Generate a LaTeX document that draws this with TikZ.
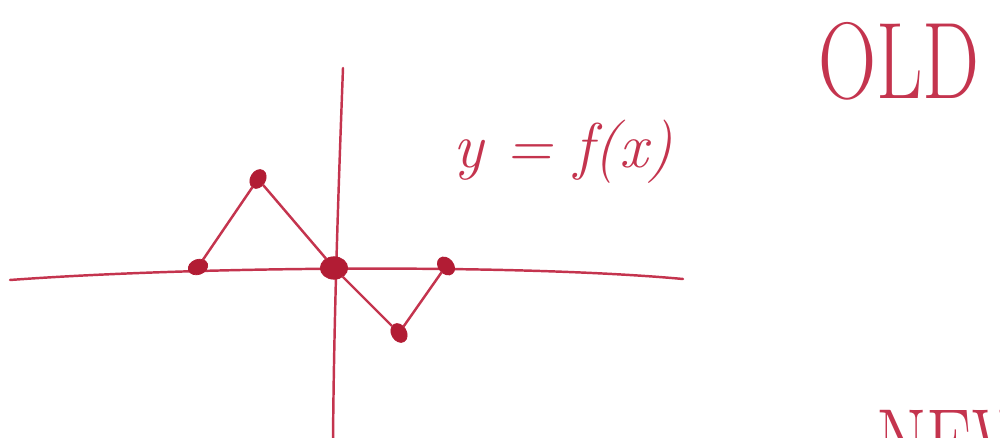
\documentclass[tikz,border=0pt]{standalone}
\usepackage{tikz}
\definecolor{tinta}{RGB}{196, 52, 78}
\definecolor{tintaosc}{RGB}{178, 28, 52}
\usetikzlibrary{calc, positioning, shapes.geometric}

\begin{document}
\begin{tikzpicture}[
  x=0.02cm, y=-0.02cm,
  punto/.style={ellipse, fill=tintaosc, draw=tintaosc, minimum width=0.4cm, minimum height=0.3cm, inner sep=0pt},
  trazo/.style={draw=tinta, line width=1.4pt, line cap=round},
  rotulo/.style={text=tinta, font=\itshape, inner sep=0pt}
]
  \useasboundingbox (0,0) rectangle (1000,438);
  \clip (0,0) rectangle (1000,438);

  \coordinate (ejeizq) at (10,280);
  \coordinate (ejeder) at (683,279);
  \coordinate (ejearr) at (343,68);
  \coordinate (ejeaba) at (333,440);

  \draw[trazo] (ejeizq) .. controls (200,266) and (520,264) .. (ejeder);
  \draw[trazo] (ejearr) .. controls (338,200) and (334,320) .. (ejeaba);

  \node[punto, rotate=20] (pa) at (198,267) {};
  \node[punto, rotate=60] (pb) at (258,179) {};
  \node[punto, minimum width=0.55cm, minimum height=0.45cm] (po) at (334,268) {};
  \node[punto, rotate=-60] (pc) at (399,333) {};
  \node[punto, rotate=-50] (pd) at (446,266) {};

  \draw[trazo] (pa) -- (pb);
  \draw[trazo] (pb) -- (po);
  \draw[trazo] (po) -- (pc);
  \draw[trazo] (pc) -- (pd);

  \node[rotulo, font=\fontsize{36}{36}\selectfont\itshape] (funcion) at (563,152) {y = f(x)};
  \node[rotulo, anchor=north west, font=\fontsize{62}{62}\selectfont] (viejo) at (818,22) {\scalebox{0.74}[1]{OLD}};
  \node[rotulo, anchor=north west, font=\fontsize{56}{56}\selectfont] (nuevo) at (876,410) {\scalebox{0.74}[1]{NEW}};
\end{tikzpicture}
\end{document}
